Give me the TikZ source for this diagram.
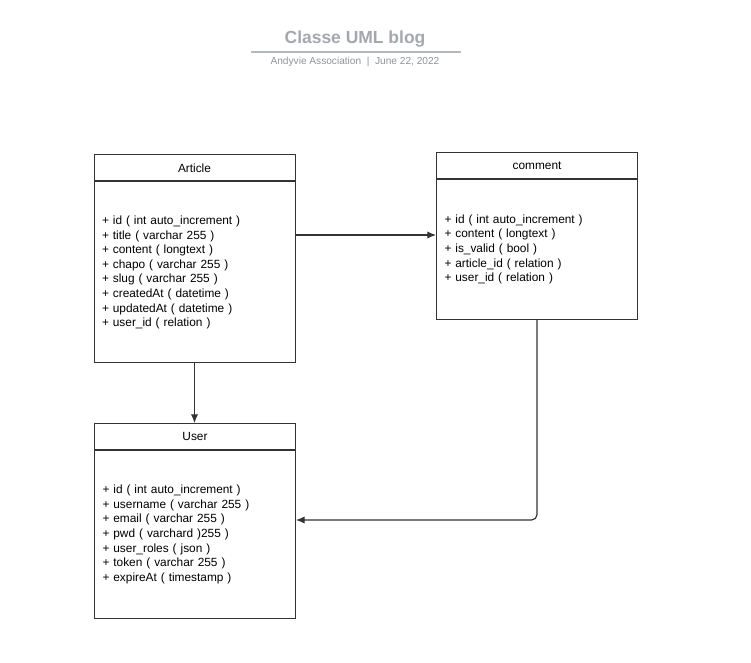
\documentclass[tikz,border=0pt]{standalone}
\usepackage{fontspec}
\setmainfont{Liberation Sans}
\usetikzlibrary{arrows.meta}
\definecolor{inkline}{HTML}{333333}
\definecolor{titlegray}{HTML}{A3A7AE}
\definecolor{subgray}{HTML}{8E939A}

\tikzset{
  classhead/.style={draw=inkline, line width=0.75pt, minimum width=150.75pt,
    minimum height=19.5pt, inner sep=0pt,
    font=\fontsize{8.9}{10.95}\selectfont},
  classbody/.style={draw=inkline, line width=0.75pt, anchor=north,
    text width=138.75pt, inner xsep=6pt, inner ysep=0pt, align=left,
    font=\fontsize{8.9}{10.95}\selectfont},
  link/.style={draw=inkline, line width=0.85pt,
    -{Latex[length=6.5pt,width=5.5pt]}}
}

\begin{document}
\begin{tikzpicture}[x=0.75pt,y=-0.75pt]
    \useasboundingbox (0,0) rectangle (751,663);

    % title block
    \node[font=\bfseries\fontsize{13.1}{15}\selectfont, text=titlegray] (title) at (355,39) {Classe UML blog};
    \coordinate (rulel) at (251,52);
    \coordinate (ruler) at (461,52);
    \draw[titlegray!80, line width=0.8pt] (rulel) -- (ruler);
    \node[font=\fontsize{7.6}{9}\selectfont, text=subgray] (sub) at (355,62) {Andyvie Association\ \ |\ \ June 22, 2022};

    % Article
    \node[classhead] (arthead) at (194.5,168) {Article};
    \node[classbody, minimum height=135.75pt] (artbody) at (arthead.south) {%
      + id ( int auto\_increment )\\
      + title ( varchar 255 )\\
      + content ( longtext )\\
      + chapo ( varchar 255 )\\
      + slug ( varchar 255 )\\
      + createdAt ( datetime )\\
      + updatedAt ( datetime )\\
      + user\_id ( relation )};

    % comment
    \node[classhead] (cmthead) at (537,165.5) {comment};
    \node[classbody, minimum height=105pt] (cmtbody) at (cmthead.south) {%
      + id ( int auto\_increment )\\
      + content ( longtext )\\
      + is\_valid ( bool )\\
      + article\_id ( relation )\\
      + user\_id ( relation )};

    % User
    \node[classhead] (userhead) at (195,436.5) {User};
    \node[classbody, minimum height=126pt] (userbody) at (userhead.south) {%
      + id ( int auto\_increment )\\
      + username ( varchar 255 )\\
      + email ( varchar 255 )\\
      + pwd ( varchard )255 )\\
      + user\_roles ( json )\\
      + token ( varchar 255 )\\
      + expireAt ( timestamp )};

    % links
    \draw[link] (artbody.east |- 0,235) -- (cmtbody.west |- 0,235);
    \draw[link] (artbody.south) -- (userhead.north -| artbody.south);
    \draw[link, rounded corners=4pt] (cmtbody.south) -- (cmtbody.south |- 0,520) -- (userbody.east |- 0,520);
  \end{tikzpicture}
\end{document}
